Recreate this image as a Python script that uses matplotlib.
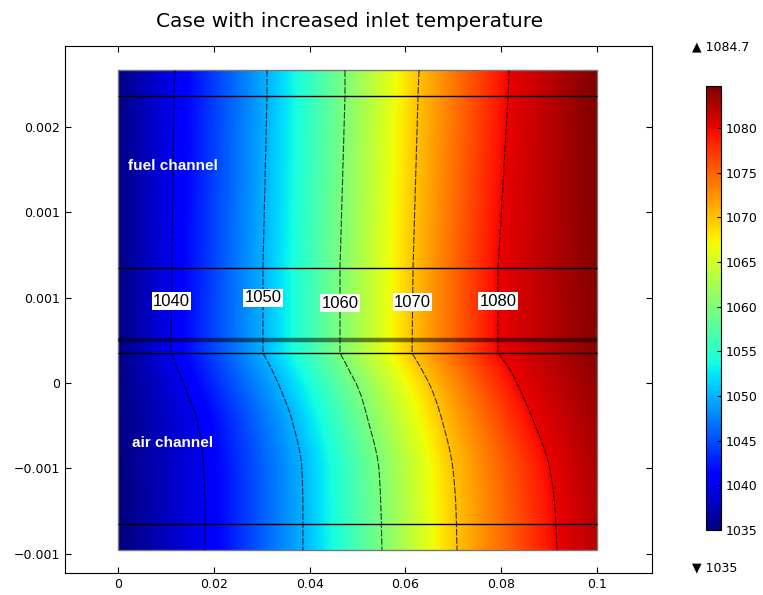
import numpy as np
import matplotlib.pyplot as plt
from matplotlib.patches import Rectangle

# contour levels (K) and where each one crosses a set of rows
levels = [1040, 1050, 1060, 1070, 1080]
row_y = [-0.000978, -0.000744, -0.000509, -0.000217, -0.000041, 0.000076,
         0.000176, 0.000673, 0.00168, 0.00183]
x_1040 = [0.01816, 0.01816, 0.01795, 0.01649, 0.0142, 0.01253, 0.01106, 0.01127, 0.01169, 0.0119]
x_1050 = [0.03862, 0.03862, 0.03841, 0.03633, 0.03403, 0.03215, 0.03027, 0.03027, 0.03111, 0.03111]
x_1060 = [0.05511, 0.0549, 0.05449, 0.05219, 0.05031, 0.04823, 0.04635, 0.04635, 0.04739, 0.04739]
x_1070 = [0.07077, 0.07056, 0.06994, 0.06764, 0.06555, 0.06347, 0.06138, 0.06159, 0.06263, 0.06284]
x_1080 = [0.09165, 0.09123, 0.09019, 0.08664, 0.08392, 0.08184, 0.07933, 0.07933, 0.08142, 0.08163]
T_left = [1035.0, 1035.0, 1035.0, 1035.1, 1035.1, 1035.2, 1035.2, 1035.3, 1035.3, 1035.3]
T_right = [1082.3, 1082.5, 1082.8, 1083.3, 1083.7, 1084.0, 1084.3, 1084.5, 1084.7, 1084.7]

T_min, T_max = 1035, 1084.7
x_len = 0.1
bounds_y = [-0.000826, 0.000176, 0.000673, 0.00168]   # thin boundary lines
layer_y = 0.000252                                     # thick layer line

xticks = [0, 0.02, 0.04, 0.06, 0.08, 0.1]
xticklabels = ['0', '0.02', '0.04', '0.06', '0.08', '0.1']
yticks = [-0.001, -0.0005, 0, 0.0005, 0.001, 0.0015]
yticklabels = ['\u22120.001', '\u22120.001', '0', '0.001', '0.001', '0.002']
cb_ticks = [1035, 1040, 1045, 1050, 1055, 1060, 1065, 1070, 1075, 1080]


def pchip(xq, xp, fp):
    # monotone cubic through the read points (keeps the curves smooth)
    xp = np.asarray(xp, float)
    fp = np.asarray(fp, float)
    h = np.diff(xp)
    d = np.diff(fp) / h
    m = np.zeros_like(fp)
    for k in range(1, len(xp) - 1):
        if d[k - 1] * d[k] > 0:
            w1 = 2 * h[k] + h[k - 1]
            w2 = h[k] + 2 * h[k - 1]
            m[k] = (w1 + w2) / (w1 / d[k - 1] + w2 / d[k])
    m[0], m[-1] = d[0], d[-1]
    i = np.clip(np.searchsorted(xp, xq) - 1, 0, len(xp) - 2)
    t = (xq - xp[i]) / h[i]
    h00 = 2 * t**3 - 3 * t**2 + 1
    h10 = t**3 - 2 * t**2 + t
    h01 = -2 * t**3 + 3 * t**2
    h11 = t**3 - t**2
    return h00 * fp[i] + h10 * h[i] * m[i] + h01 * fp[i + 1] + h11 * h[i] * m[i + 1]


# build the temperature field from the read crossings
cross = np.array([x_1040, x_1050, x_1060, x_1070, x_1080])
n_air = 7   # rows up to the air-channel top; curves are smoothed there
xs = np.linspace(0, x_len, 500)
ys = np.linspace(row_y[0], row_y[-1], 600)
T = np.zeros((len(ys), len(xs)))
for j, yy in enumerate(ys):
    if yy <= row_y[n_air - 1]:
        cx = [float(pchip(yy, row_y[:n_air], c[:n_air])) for c in cross]
    else:
        cx = [np.interp(yy, row_y, c) for c in cross]
    tl = np.interp(yy, row_y, T_left)
    tr = np.interp(yy, row_y, T_right)
    T[j] = np.interp(xs, [0] + cx + [x_len], [tl] + levels + [tr])

fig = plt.figure(figsize=(7.63, 5.95), dpi=100)
ax = fig.add_axes([0.0852, 0.037, 0.7693, 0.8857])

ax.imshow(T, extent=(0, x_len, row_y[0], row_y[-1]), origin='lower',
          aspect='auto', cmap='jet', vmin=T_min, vmax=T_max, interpolation='bilinear')
cs = ax.contour(xs, ys, T, levels=levels, colors='k', linewidths=0.8,
                linestyles=[(0, (6, 1.5))], alpha=0.75)
lab_pos = [(0.0109, 0.00048), (0.0301, 0.000498), (0.0461, 0.000468),
           (0.0614, 0.000474), (0.0785, 0.00048)]
labels = ax.clabel(cs, fmt='%d', manual=lab_pos, inline=False, fontsize=12)
for t in labels:
    t.set_rotation(0)
    t.set_family('Liberation Sans')
    t.set_color('black')
    t.set_bbox(dict(facecolor='white', edgecolor='none', pad=1.0))

ax.hlines(bounds_y, 0, x_len, colors='k', linewidth=1)
ax.hlines([layer_y], 0, x_len, colors='k', linewidth=3.2, alpha=0.5)
ax.add_patch(Rectangle((0, row_y[0]), x_len, row_y[-1] - row_y[0], fill=False,
                       edgecolor='#777777', linewidth=1))

ax.text(0.002, 0.00127, 'fuel channel', color='white', fontsize=11,
        family='Liberation Sans', weight='bold', va='center')
ax.text(0.003, -0.00035, 'air channel', color='white', fontsize=11,
        family='Liberation Sans', weight='bold', va='center')

ax.set_xlim(-0.01106, 0.11148)
ax.set_ylim(-0.001112, 0.001973)
ax.set_xticks(xticks)
ax.set_xticklabels(xticklabels)
ax.set_yticks(yticks)
ax.set_yticklabels(yticklabels)
ax.tick_params(direction='in', top=True, right=True, labelsize=9, length=4)
ax.set_title('Case with increased inlet temperature', fontsize=14.5, pad=14, x=0.4855)

cax = fig.add_axes([0.9253, 0.1092, 0.0197, 0.7462])
sm = plt.cm.ScalarMappable(cmap='jet', norm=plt.Normalize(T_min, T_max))
cb = fig.colorbar(sm, cax=cax)
cb.set_ticks(cb_ticks)
cb.ax.tick_params(direction='in', labelsize=9, length=3)
fig.text(0.907, 0.921, '\u25b2 1084.7', fontsize=9, va='center')
fig.text(0.907, 0.045, '\u25bc 1035', fontsize=9, va='center')

fig.savefig('out.png', dpi=100)
